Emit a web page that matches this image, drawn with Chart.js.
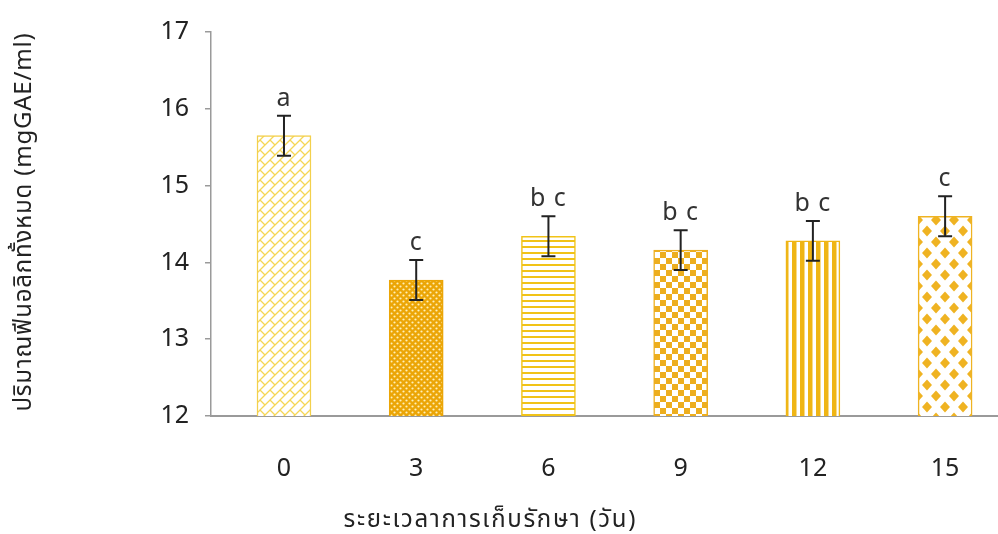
<!DOCTYPE html>
<html>
<head>
<meta charset="utf-8">
<script src="https://cdn.jsdelivr.net/npm/chart.js@4.4.1/dist/chart.umd.min.js"></script>
<style>
  html, body { margin: 0; padding: 0; background: #ffffff; overflow: hidden; }
  #wrap { width: 998px; height: 534px; position: relative; }
</style>
</head>
<body>
<div id="wrap"><canvas id="c" width="998" height="534"></canvas></div>
<script>
// Storage time (days) and total phenolic content
const days = ['0', '3', '6', '9', '12', '15'];
const phenolic = [15.65, 13.77, 14.34, 14.16, 14.28, 14.60];
const sdError = [0.26, 0.26, 0.26, 0.26, 0.26, 0.26];
const groupLetters = ['a', 'c', 'b c', 'b c', 'b c', 'c'];
const yTickValues = [12, 13, 14, 15, 16, 17];

const xTitle = 'ระยะเวลาการเก็บรักษา (วัน)';
const yTitle = 'ปริมาณฟีนอลิกทั้งหมด (mgGAE/ml)';

const FONT = '"Noto Sans", "Noto Sans Thai", "DejaVu Sans", sans-serif';
const canvas = document.getElementById('c');
const ctx = canvas.getContext('2d');

function tile(w, h, draw) {
  const t = document.createElement('canvas');
  t.width = w; t.height = h;
  const g = t.getContext('2d');
  g.fillStyle = '#ffffff';
  g.fillRect(0, 0, w, h);
  draw(g, w, h);
  return ctx.createPattern(t, 'repeat');
}

// brick lattice on a diagonal
const lattice = tile(10, 10, (g, w, h) => {
  g.strokeStyle = '#F5D656';
  g.lineWidth = 1.3;
  g.beginPath();
  for (let k = -1; k <= 2; k++) {
    g.moveTo(k * w - w, h + w); g.lineTo(k * w + h + w, -w);
  }
  g.stroke();
  g.beginPath();
  [[0, 0], [w, 0], [0, h], [w, h], [-w, 0], [0, -h], [-w, -h], [w, -h], [-w, h]].forEach(([ox, oy]) => {
    g.moveTo(ox, oy); g.lineTo(ox + w / 2, oy + h / 2);
  });
  g.stroke();
});

// dense dots on orange
const dots = tile(6, 6, (g, w, h) => {
  g.fillStyle = '#EBA506';
  g.fillRect(0, 0, w, h);
  g.fillStyle = '#FFF0B8';
  [[1.5, 1.5], [4.5, 4.5]].forEach(([x, y]) => {
    g.beginPath(); g.arc(x, y, 1.1, 0, Math.PI * 2); g.fill();
  });
});

// horizontal lines
const hLines = tile(6, 6, (g, w) => {
  g.fillStyle = '#F1C317';
  g.fillRect(0, 0, w, 2);
});

// small checkerboard
const checker = tile(12, 12, (g) => {
  g.fillStyle = '#EDAE1E';
  g.fillRect(0, 0, 6, 6);
  g.fillRect(6, 6, 6, 6);
});

// vertical stripes
const vLines = tile(8, 8, (g, w, h) => {
  g.fillStyle = '#EFB515';
  g.fillRect(0, 0, 4.5, h);
});

// diamonds
const diamonds = tile(18, 22, (g, w, h) => {
  g.fillStyle = '#EFB322';
  const dia = (cx, cy) => {
    g.beginPath();
    g.moveTo(cx, cy - 5.5); g.lineTo(cx + 5, cy); g.lineTo(cx, cy + 5.5); g.lineTo(cx - 5, cy);
    g.closePath(); g.fill();
  };
  [[0, 0], [w, 0], [0, h], [w, h], [w / 2, h / 2]].forEach(([x, y]) => dia(x, y));
});

const fills = [lattice, dots, hLines, checker, vLines, diamonds];
const borders = ['#F3D04C', '#EBA506', '#F1C317', '#EDAE1E', '#EFB515', '#EFB322'];

const annotate = {
  id: 'annotate',
  afterDatasetsDraw(chart) {
    const c = chart.ctx;
    const xs = chart.scales.x, ys = chart.scales.y;
    c.save();
    phenolic.forEach((v, i) => {
      const x = xs.getPixelForValue(i);
      const top = ys.getPixelForValue(v + sdError[i]);
      const bot = ys.getPixelForValue(v - sdError[i]);
      c.strokeStyle = '#222222';
      c.lineWidth = 2;
      c.beginPath();
      c.moveTo(x, top); c.lineTo(x, bot);
      c.moveTo(x - 7, top); c.lineTo(x + 7, top);
      c.moveTo(x - 7, bot); c.lineTo(x + 7, bot);
      c.stroke();
      c.fillStyle = '#333333';
      c.font = '25px ' + FONT;
      c.textAlign = 'center';
      c.textBaseline = 'alphabetic';
      c.letterSpacing = '1px';
      c.fillText(groupLetters[i], x, top - 10);
    });
    // axis titles
    c.fillStyle = '#222222';
    c.font = '24px ' + FONT;
    c.textAlign = 'center';
    c.textBaseline = 'middle';
    c.letterSpacing = '1.7px';
    c.fillText(xTitle, (xs.getPixelForValue(1) + xs.getPixelForValue(2)) / 2 + 8, 520);
    c.letterSpacing = '0.8px';
    c.translate(24, (ys.top + ys.bottom) / 2 - 2);
    c.rotate(-Math.PI / 2);
    c.fillText(yTitle, 0, 0);
    c.restore();
  }
};

new Chart(canvas, {
  type: 'bar',
  data: {
    datasets: [{
      data: phenolic.map((v, i) => ({ x: i, y: v })),
      backgroundColor: fills,
      borderColor: borders,
      borderWidth: 1.5,
      barThickness: 54
    }]
  },
  options: {
    responsive: false,
    animation: false,
    events: [],
    layout: { padding: { top: 32, left: 0, right: 0, bottom: 0 } },
    plugins: { legend: { display: false }, tooltip: { enabled: false } },
    scales: {
      x: {
        type: 'linear',
        offset: false,
        min: -0.552,
        max: 5.40,
        afterBuildTicks: (axis) => { axis.ticks = days.map((_, i) => ({ value: i })); },
        afterFit: (scale) => { scale.height = 118; },
        grid: { display: false, drawTicks: false, offset: false },
        border: { display: true, color: '#9a9a9a', width: 2 },
        ticks: {
          padding: 38,
          color: '#222222',
          font: { size: 25, family: FONT },
          callback: (v) => days[v]
        }
      },
      y: {
        min: 12,
        max: 17,
        afterBuildTicks: (axis) => { axis.ticks = yTickValues.map(v => ({ value: v })); },
        afterFit: (scale) => { scale.width = 211; },
        grid: { drawOnChartArea: false, drawTicks: true, tickLength: 6, color: '#9a9a9a', lineWidth: 1.5 },
        border: { display: true, color: '#9a9a9a', width: 1.5 },
        ticks: {
          padding: 16,
          color: '#222222',
          font: { size: 25, family: FONT }
        }
      }
    }
  },
  plugins: [annotate]
});
</script>
</body>
</html>
